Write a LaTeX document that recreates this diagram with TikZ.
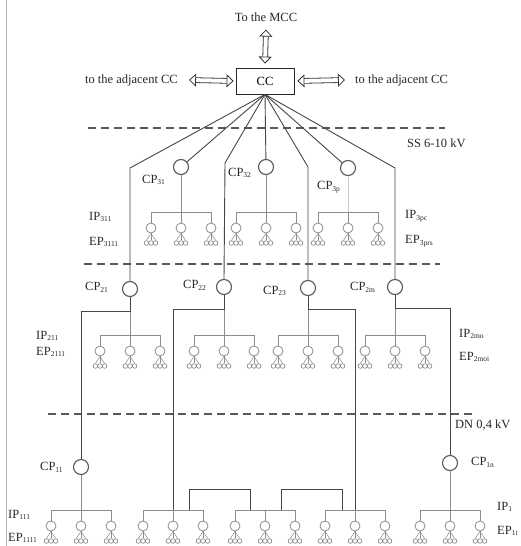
\documentclass[tikz,border=0pt]{standalone}
\usepackage{fontspec}
\setmainfont{Liberation Serif}
\usetikzlibrary{arrows.meta}
\newcommand\sbs[1]{\raisebox{-0.3ex}{\fontsize{7.5}{8}\selectfont #1}}
\newcommand\grp[3]{%
  \draw[bus] ({#2-30},#3) -- ({#2+30},#3);
  \coordinate (#1) at (#2,#3);
  \foreach \k/\dx in {1/-30,2/0,3/30} {\pic (#1e\k) at ({#2+\dx},#3) {elem};}
}
\begin{document}
\begin{tikzpicture}[x=1pt,y=-1pt,
  lbl/.style={font=\fontsize{12.5}{14}\selectfont, inner sep=0pt, anchor=west, text=black!85},
  dk/.style={draw=black!72, line width=0.9pt},
  bus/.style={draw=black!45, line width=1pt},
  cpc/.style={circle, draw=black!65, line width=1.1pt, minimum size=15pt, inner sep=0pt},
  epc/.style={circle, draw=black!45, line width=0.8pt, minimum size=10pt, inner sep=0pt},
  eps/.style={circle, draw=black!45, line width=0.7pt, minimum size=4.6pt, inner sep=0pt},
  dsh/.style={draw=black!65, line width=1.4pt, dash pattern=on 8pt off 5pt},
  tip/.tip={Triangle[open, fill=white, length=7pt, width=13pt, line width=0.8pt]},
  dbl/.style={double=white, draw=black!80, double distance=4pt, line width=0.8pt, tip-tip},
  box/.style={draw=black!85, line width=0.8pt, minimum width=58pt, minimum height=26pt, inner sep=0pt, font=\fontsize{12.5}{14}\selectfont},
  elem/.pic={
    \draw[bus] (0,0) -- (0,11);
    \node[epc] (-c) at (0,16) {};
    \node[eps] (-a) at (-4.6,31) {};
    \node[eps] (-b) at (0,31) {};
    \node[eps] (-d) at (4.6,31) {};
    \draw[bus, line width=0.5pt] (-c.south) -- (-a.north);
    \draw[bus, line width=0.5pt] (-c.south) -- (-b.north);
    \draw[bus, line width=0.5pt] (-c.south) -- (-d.north);
  }
]
\useasboundingbox (0,0) rectangle (520,546);
\draw[black!30, line width=1pt] (6,0) -- (6,546);

% top
\node[lbl, anchor=center] (mcc) at (266,17) {To the MCC};
\node[box] (cc) at (265,81) {CC};
\node[lbl, anchor=east] (adjl) at (178,80) {to the adjacent CC};
\node[lbl] (adjr) at (355,80) {to the adjacent CC};
\draw[dbl] ([yshift=-8pt]mcc.south) -- ([yshift=4pt]cc.north);
\draw[dbl] ([xshift=11pt]adjl.east) -- ([xshift=-2pt]cc.west);
\draw[dbl] ([xshift=3pt]cc.east) -- ([xshift=-10pt]adjr.west);

% dashed levels
\draw[dsh] (88,128) -- (445,128);
\draw[dsh] (84,264) -- (440,264);
\draw[dsh] (48,414) -- (477,414);
\node[lbl] (ss) at (407,143) {SS 6-10 kV};
\node[lbl] (dn) at (455,425) {DN 0,4 kV};

% CP nodes
\node[cpc] (cp31) at (181,167) {};
\node[cpc] (cp32) at (266,167) {};
\node[cpc] (cp3p) at (348,168) {};
\node[cpc] (cp21) at (130,289) {};
\node[cpc] (cp22) at (224,287) {};
\node[cpc] (cp23) at (308,288) {};
\node[cpc] (cp2m) at (395,287) {};
\node[cpc] (cp11) at (81,467) {};
\node[cpc] (cp1n) at (450,463) {};

% groups
\grp{g31}{181}{212}
\grp{g32}{266}{212}
\grp{g3p}{348}{212}
\grp{g21}{130}{335}
\grp{g22}{224}{335}
\grp{g23}{308}{335}
\grp{g2m}{395}{335}
\grp{gA}{81}{510}
\grp{gB}{173}{510}
\grp{gC}{265}{510}
\grp{gD}{355}{510}
\grp{gE}{450}{510}

% grey feeders
\draw[bus] (cp31) -- (g31);
\draw[bus] (cp32) -- (g32);
\draw[draw=black!20, line width=0.8pt] (cp3p) -- (g3p);
\draw[bus] (cp21) -- (g21);
\draw[bus] (cp22) -- (g22);
\draw[bus] (cp23) -- (g23);
\draw[bus] (cp2m) -- (g2m);
\draw[bus] (cp11) -- (gA);
\draw[bus] (cp1n) -- (gE);

% dark lines from CC
\draw[dk] (cc.south) -- (130,168) -- (cp21.north);
\draw[dk] (cc.south) -- (cp31);
\draw[dk] (cc.south) -- (225,163) -- (cp22.north);
\draw[dk] (cc.south) -- (cp32);
\draw[dk] (cc.south) -- (308,167) -- (cp23.north);
\draw[dk] (cc.south) -- (cp3p);
\draw[dk] (cc.south) -- (395,168) -- (cp2m.north);

% dark lines from level 2
\draw[dk] (cp21.south) -- (130,311) -- (81,311) -- (cp11.north);
\draw[dk] (cp22.south) -- (224,309) -- (173,309) -- (gB);
\draw[dk] (cp23.south) -- (308,309) -- (355,309) -- (gD);
\draw[dk] (cp2m.south) -- (395,308) -- (450,308) -- (cp1n.north);
\draw[dk] (189,510) -- (189,489) -- (250,489) -- (250,510);
\draw[dk] (281,510) -- (281,489) -- (342,489) -- (342,510);

% labels
\node[lbl] at (142,180) {CP\sbs{31}};
\node[lbl] at (228,173) {CP\sbs{32}};
\node[lbl] at (317,187) {CP\sbs{3p}};
\node[lbl] at (89,217) {IP\sbs{311}};
\node[lbl] at (89,242) {EP\sbs{3111}};
\node[lbl] at (405,216) {IP\sbs{3pc}};
\node[lbl] at (405,241) {EP\sbs{3prs}};
\node[lbl] at (85,287) {CP\sbs{21}};
\node[lbl] at (183,285) {CP\sbs{22}};
\node[lbl] at (263,291) {CP\sbs{23}};
\node[lbl] at (350,287) {CP\sbs{2m}};
\node[lbl] at (36,336) {IP\sbs{211}};
\node[lbl] at (36,352) {EP\sbs{2111}};
\node[lbl] at (459,334) {IP\sbs{2mo}};
\node[lbl] at (459,357) {EP\sbs{2moi}};
\node[lbl] at (40,467) {CP\sbs{11}};
\node[lbl] at (471,462) {CP\sbs{1n}};
\node[lbl] at (8,515) {IP\sbs{111}};
\node[lbl] at (8,538) {EP\sbs{1111}};
\node[lbl] at (497,507) {IP\sbs{1}};
\node[lbl] at (497,531) {EP\sbs{1t}};
\end{tikzpicture}
\end{document}
